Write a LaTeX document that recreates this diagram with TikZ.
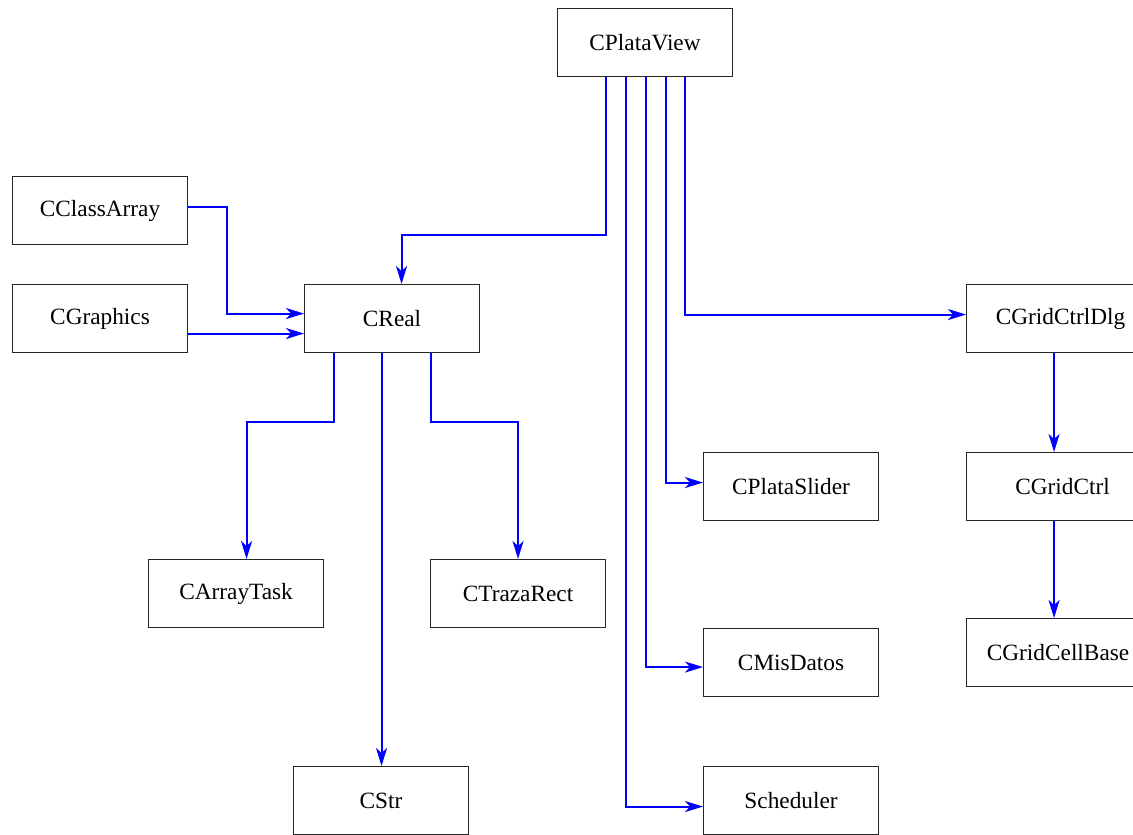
\documentclass[tikz,border=0pt]{standalone}
\usepackage{fontspec}
\setmainfont{Liberation Serif}
\usetikzlibrary{arrows.meta}
\tikzset{
  cls/.style={draw=black!85, line width=1.1pt, fill=white, minimum width=175pt,
    minimum height=68pt, inner sep=0pt, anchor=north west,
    font=\fontsize{23.3}{28}\selectfont},
  conn/.style={draw=blue, line width=2pt,
    -{Stealth[length=18pt, width=11pt, inset=5pt]}},
}
\begin{document}
\begin{tikzpicture}[x=1pt, y=-1pt]
\useasboundingbox (0,0) rectangle (1133,835);
% classes
\node[cls] (pv)  at (557,8)   {CPlataView};
\node[cls] (ca)  at (12,176)  {CClassArray};
\node[cls] (gr)  at (12,284)  {CGraphics};
\node[cls] (cr)  at (304,284) {CReal};
\node[cls] (gd)  at (966,284) {\hspace*{13pt}CGridCtrlDlg};
\node[cls] (gc)  at (966,452) {\hspace*{17pt}CGridCtrl};
\node[cls] (gb)  at (966,618) {\hspace*{8pt}CGridCellBase};
\node[cls] (ps)  at (703,452) {CPlataSlider};
\node[cls] (md)  at (703,628) {CMisDatos};
\node[cls] (sc)  at (703,766) {Scheduler};
\node[cls] (at)  at (148,559) {CArrayTask};
\node[cls] (tr)  at (430,559) {CTrazaRect};
\node[cls] (st)  at (293,766) {CStr};
% relations from CPlataView
\draw[conn] ([xshift=-39.5pt]pv.south) -- ++(0,158) -| ([xshift=9.5pt]cr.north);
\draw[conn] ([xshift=-19.5pt]pv.south) |- ([yshift=-6pt]sc.west);
\draw[conn] ([xshift=0.5pt]pv.south) |- ([yshift=-4.5pt]md.west);
\draw[conn] ([xshift=20.5pt]pv.south) |- ([yshift=4pt]ps.west);
\draw[conn] ([xshift=39.5pt]pv.south) |- ([yshift=4pt]gd.west);
% into CReal
\draw[conn] ([yshift=4pt]ca.east) -- ++(39,0) |- ([yshift=5pt]cr.west);
\draw[conn] ([yshift=-15pt]gr.east) -- ([yshift=-15pt]cr.west);
% from CReal
\draw[conn] ([xshift=-58.5pt]cr.south) -- ++(0,69) -| ([xshift=10.5pt]at.north);
\draw[conn] ([xshift=-10.5pt]cr.south) -- ([xshift=-10.5pt]cr.south |- st.north);
\draw[conn] ([xshift=38.5pt]cr.south) -- ++(0,69) -| (tr.north);
% grid chain
\draw[conn] (gd.south) -- (gc.north);
\draw[conn] (gc.south) -- (gb.north);
\end{tikzpicture}
\end{document}
